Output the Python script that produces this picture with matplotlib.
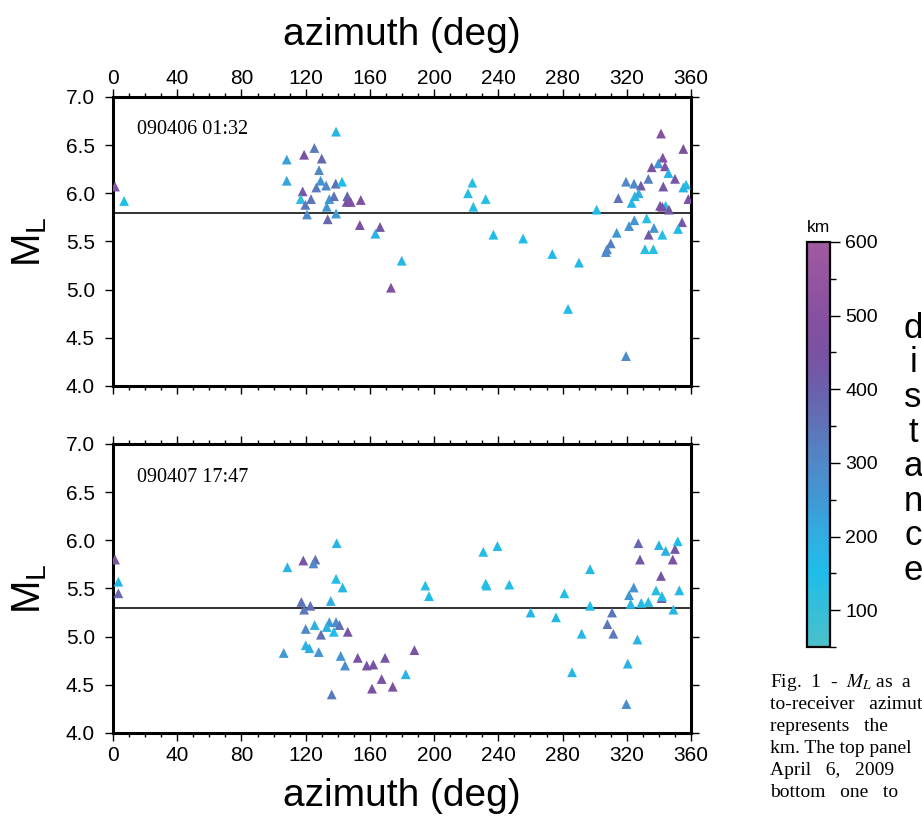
import matplotlib
matplotlib.use("Agg")
import matplotlib.pyplot as plt
from matplotlib.colors import LinearSegmentedColormap, Normalize
from matplotlib.ticker import MultipleLocator, FixedLocator, FormatStrFormatter
import matplotlib.cm as cm

plt.rcParams['font.family'] = ['Liberation Sans', 'DejaVu Sans']
plt.rcParams['mathtext.fontset'] = 'stix'

# event 090406 01:32 : azimuth (deg), M_L, distance (km)
az_1 = [1.2, 6.9, 108.2, 108.2, 119.0, 125.4, 130.0, 128.3, 129.3, 138.9,
        126.6, 132.7, 138.7, 142.6, 118.1, 116.9, 123.3, 119.8, 120.8, 134.7,
        133.1, 137.6, 133.7, 138.9, 145.9, 145.5, 148.0, 154.3, 153.7, 166.3,
        163.4, 173.1, 179.8, 223.8, 221.1, 224.4, 232.1, 236.9, 255.4, 273.6,
        290.2, 283.4, 301.2, 319.5, 307.0, 307.7, 310.0, 313.7, 314.7, 319.5,
        324.5, 328.8, 333.4, 325.0, 327.4, 323.0, 321.4, 324.7, 332.4, 336.9,
        333.6, 342.1, 331.3, 336.5, 341.3, 355.2, 342.4, 339.6, 335.5, 343.8,
        345.9, 350.0, 342.7, 356.9, 355.2, 358.3, 340.7, 344.2, 342.1, 346.3,
        354.4, 351.9]
ml_1 = [6.07, 5.92, 6.35, 6.13, 6.40, 6.47, 6.36, 6.24, 6.13, 6.64,
        6.06, 6.08, 6.10, 6.12, 6.02, 5.94, 5.94, 5.88, 5.78, 5.94,
        5.86, 5.97, 5.73, 5.79, 5.97, 5.91, 5.91, 5.93, 5.67, 5.65,
        5.58, 5.02, 5.30, 6.11, 6.00, 5.86, 5.94, 5.57, 5.53, 5.37,
        5.28, 4.80, 5.83, 4.31, 5.39, 5.42, 5.48, 5.59, 5.95, 6.12,
        6.10, 6.08, 6.15, 5.97, 6.00, 5.90, 5.66, 5.72, 5.74, 5.64,
        5.57, 5.57, 5.42, 5.42, 6.62, 6.46, 6.37, 6.31, 6.27, 6.28,
        6.21, 6.15, 6.07, 6.09, 6.06, 5.94, 5.87, 5.87, 5.86, 5.83,
        5.70, 5.63]
dist_1 = [480, 150, 230, 220, 450, 330, 380, 300, 260, 170,
          330, 300, 350, 150, 420, 120, 350, 340, 290, 250,
          260, 350, 380, 240, 380, 450, 480, 470, 470, 430,
          180, 460, 170, 130, 130, 130, 130, 150, 150, 160,
          160, 160, 160, 290, 280, 290, 320, 250, 350, 300,
          290, 420, 320, 180, 200, 170, 270, 260, 130, 260,
          420, 140, 130, 130, 500, 450, 480, 250, 450, 470,
          180, 430, 430, 140, 180, 440, 450, 150, 450, 430,
          430, 160]

# event 090407 17:47
az_2 = [1.2, 3.3, 3.3, 108.6, 118.5, 126.0, 124.8, 139.3, 138.9, 143.0,
        135.6, 117.3, 122.9, 119.0, 120.0, 125.6, 134.7, 133.1, 138.9, 141.0,
        137.5, 129.5, 146.2, 120.0, 122.3, 128.1, 106.3, 141.8, 144.5, 152.4,
        158.0, 162.1, 169.4, 167.3, 161.3, 174.2, 136.2, 182.3, 187.7, 194.5,
        196.8, 230.6, 239.4, 232.1, 232.7, 246.8, 260.1, 275.9, 285.9, 281.1,
        291.9, 297.1, 297.1, 310.8, 307.9, 311.6, 326.6, 320.6, 319.7, 327.2,
        328.2, 321.4, 324.3, 322.4, 329.0, 333.4, 338.2, 341.3, 341.7, 341.9,
        340.0, 344.2, 350.0, 348.6, 351.7, 352.7, 349.0]
ml_2 = [5.80, 5.57, 5.45, 5.72, 5.79, 5.80, 5.76, 5.97, 5.60, 5.51,
        5.37, 5.36, 5.32, 5.28, 5.08, 5.12, 5.15, 5.10, 5.15, 5.12,
        5.05, 5.02, 5.05, 4.91, 4.88, 4.84, 4.83, 4.80, 4.70, 4.78,
        4.70, 4.71, 4.78, 4.56, 4.46, 4.48, 4.40, 4.61, 4.86, 5.53,
        5.42, 5.88, 5.94, 5.55, 5.53, 5.54, 5.25, 5.20, 4.63, 5.45,
        5.03, 5.70, 5.32, 5.25, 5.13, 5.03, 4.97, 4.72, 4.30, 5.97,
        5.80, 5.43, 5.51, 5.34, 5.35, 5.36, 5.48, 5.63, 5.40, 5.42,
        5.95, 5.89, 5.91, 5.80, 5.99, 5.48, 5.28]
dist_2 = [450, 170, 380, 190, 440, 350, 300, 170, 140, 170,
          200, 350, 360, 340, 300, 200, 240, 190, 280, 350,
          150, 360, 440, 180, 200, 260, 250, 260, 280, 440,
          440, 440, 440, 440, 450, 450, 330, 180, 440, 140,
          150, 140, 140, 140, 140, 140, 170, 170, 170, 140,
          170, 170, 150, 340, 340, 330, 180, 180, 280, 380,
          430, 260, 270, 170, 140, 140, 140, 440, 400, 140,
          180, 190, 430, 450, 150, 170, 170]

mean_ml = [5.8, 5.3]
labels = ["090406 01:32", "090407 17:47"]

# colour scale for distance
cpt_km = [50, 150, 200, 250, 300, 350, 400, 450, 500, 600]
cpt_col = ["#4cc0c9", "#1fbde9", "#30aee2", "#4098d5", "#5188c8",
           "#5f73b8", "#6c5fab", "#7a52a2", "#8650a0", "#a15aa0"]
dmin, dmax = 50, 600
cmap = LinearSegmentedColormap.from_list(
    "dist", [((k - dmin) / (dmax - dmin), c) for k, c in zip(cpt_km, cpt_col)])
norm = Normalize(dmin, dmax)

fig = plt.figure(figsize=(9.22, 8.27), dpi=100)
ax1 = fig.add_axes([0.1226, 0.5333, 0.6269, 0.3495])
ax2 = fig.add_axes([0.1226, 0.1137, 0.6269, 0.3495])

panels = [(ax1, az_1, ml_1, dist_1), (ax2, az_2, ml_2, dist_2)]
for i, (ax, az, ml, dist) in enumerate(panels):
    ax.scatter(az, ml, c=dist, cmap=cmap, norm=norm, marker="^", s=50,
               linewidths=0, zorder=3)
    ax.axhline(mean_ml[i], color="#222222", lw=1.3, zorder=2)
    ax.set_xlim(0, 360)
    ax.set_ylim(4, 7)
    ax.xaxis.set_major_locator(MultipleLocator(40))
    ax.xaxis.set_minor_locator(MultipleLocator(10))
    ax.yaxis.set_major_locator(MultipleLocator(0.5))
    ax.yaxis.set_major_formatter(FormatStrFormatter("%.1f"))
    for s in ax.spines.values():
        s.set_linewidth(2.2)
    ax.tick_params(which="both", direction="out", top=True, bottom=True,
                   left=True, right=True, width=1, labelsize=15)
    ax.tick_params(which="major", length=6)
    ax.tick_params(which="minor", length=3)
    ax.tick_params(axis="x", pad=1.5)
    ax.tick_params(axis="y", pad=7)
    ax.set_ylabel(r"$\mathregular{M_L}$", fontsize=29, labelpad=12)
    ax.text(0.0415, 0.870, labels[i], transform=ax.transAxes,
            family="Liberation Serif", fontsize=14.5, va="baseline")

ax1.tick_params(axis="x", labeltop=True, labelbottom=False)
ax1.tick_params(axis="x", pad=0.5)
ax2.tick_params(axis="x", pad=3.5)
ax1.xaxis.set_label_position("top")
ax1.set_xlabel("azimuth (deg)", fontsize=28, labelpad=17)
ax2.set_xlabel("azimuth (deg)", fontsize=28, labelpad=9)

# colour bar
cax = fig.add_axes([0.8753, 0.2176, 0.0249, 0.4898])
sm = cm.ScalarMappable(norm=norm, cmap=cmap)
cb = fig.colorbar(sm, cax=cax)
cb.outline.set_linewidth(1.6)
cb.set_ticks(range(100, 601, 100))
cax.yaxis.set_minor_locator(FixedLocator(range(50, 600, 100)))
cax.tick_params(which="both", direction="out", width=1, labelsize=14, pad=4)
cax.tick_params(which="major", length=7)
cax.tick_params(which="minor", length=4)
fig.text(818 / 922, 1 - 228 / 827, "km", fontsize=12.5, ha="center", va="center")
for k, ch in enumerate("distance"):
    fig.text(913 / 922, 1 - (338 + 34.5 * k) / 827, ch, fontsize=25,
             ha="center", va="baseline")

# figure caption (cut by the page edge, as in the reference)
caption = [
    "Fig.  1  -  $M_L$ as  a",
    "to-receiver   azimuth",
    "represents   the",
    "km. The top panel",
    "April   6,   2009",
    "bottom   one   to",
]
for k, line in enumerate(caption):
    fig.text(770 / 922, 1 - (687 + 22 * k) / 827, line,
             family="Liberation Serif", fontsize=14, va="baseline")

fig.savefig("out.png", dpi=100)
